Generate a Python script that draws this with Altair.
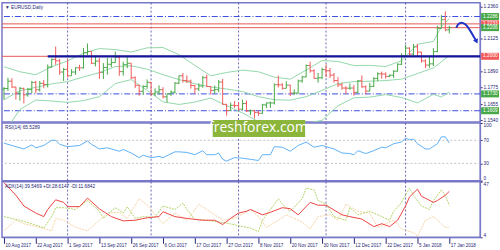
import altair as alt
import pandas as pd

# ---------------- data ----------------
bar_index = list(range(113))
opens = [1.1765,1.1769,1.1821,1.1779,1.1736,1.1770,1.1723,1.1761,1.1813,1.1760,
1.1806,1.1797,1.1923,1.1978,1.1968,1.1887,1.1906,1.1860,1.1887,1.1918,
1.1917,1.2026,1.2035,1.1950,1.1966,1.1885,1.1920,1.1943,1.1955,1.1994,
1.1890,1.1940,1.1950,1.1846,1.1792,1.1749,1.1784,1.1813,1.1731,1.1744,
1.1760,1.1709,1.1731,1.1742,1.1807,1.1860,1.1826,1.1822,1.1790,1.1766,
1.1787,1.1847,1.1783,1.1755,1.1761,1.1815,1.1655,1.1610,1.1648,1.1646,
1.1620,1.1661,1.1608,1.1609,1.1597,1.1590,1.1651,1.1665,1.1665,1.1796,
1.1795,1.1770,1.1793,1.1736,1.1736,1.1823,1.1852,1.1934,1.1896,1.1842,
1.1846,1.1904,1.1896,1.1865,1.1826,1.1795,1.1772,1.1771,1.1772,1.1741,
1.1824,1.1781,1.1750,1.1784,1.1841,1.1874,1.1873,1.1856,1.1864,1.1893,
1.1943,1.2003,1.2059,1.2016,1.2068,1.2030,1.1967,1.1937,1.1946,1.2034,
1.2201,1.2263,1.2190]
highs = [1.1779,1.1846,1.1842,1.1782,1.1780,1.1774,1.1773,1.1823,1.1823,1.1823,
1.1830,1.1941,1.1984,1.2070,1.1980,1.1916,1.1980,1.1908,1.1920,1.1939,
1.2060,1.2092,1.2036,1.1997,1.1988,1.1951,1.1989,1.1987,1.2034,1.2007,
1.1961,1.2001,1.1950,1.1855,1.1795,1.1792,1.1834,1.1816,1.1770,1.1792,
1.1778,1.1731,1.1755,1.1815,1.1861,1.1880,1.1863,1.1833,1.1795,1.1806,
1.1860,1.1868,1.1787,1.1790,1.1830,1.1837,1.1658,1.1668,1.1678,1.1669,
1.1689,1.1682,1.1618,1.1615,1.1609,1.1658,1.1668,1.1675,1.1805,1.1862,
1.1807,1.1821,1.1795,1.1763,1.1833,1.1860,1.1941,1.1961,1.1907,1.1880,
1.1918,1.1940,1.1916,1.1880,1.1851,1.1810,1.1786,1.1805,1.1793,1.1830,
1.1863,1.1791,1.1810,1.1850,1.1885,1.1890,1.1885,1.1870,1.1900,1.1950,
1.2022,1.2082,1.2065,1.2089,1.2088,1.2032,1.1978,1.2000,1.2059,1.2219,
1.2296,1.2323,1.2220]
lows = [1.1689,1.1751,1.1774,1.1689,1.1681,1.1662,1.1710,1.1735,1.1734,1.1745,
1.1771,1.1776,1.1918,1.1939,1.1867,1.1823,1.1848,1.1860,1.1867,1.1895,
1.1913,1.2009,1.1944,1.1928,1.1838,1.1837,1.1868,1.1922,1.1953,1.1860,
1.1861,1.1915,1.1837,1.1772,1.1717,1.1722,1.1766,1.1718,1.1715,1.1724,
1.1698,1.1669,1.1716,1.1732,1.1800,1.1811,1.1808,1.1768,1.1730,1.1750,
1.1774,1.1780,1.1725,1.1730,1.1742,1.1652,1.1574,1.1608,1.1629,1.1610,
1.1613,1.1600,1.1578,1.1554,1.1572,1.1587,1.1628,1.1630,1.1654,1.1776,
1.1761,1.1770,1.1715,1.1722,1.1732,1.1810,1.1849,1.1883,1.1838,1.1810,
1.1836,1.1850,1.1845,1.1811,1.1779,1.1760,1.1730,1.1760,1.1717,1.1735,
1.1774,1.1727,1.1749,1.1780,1.1821,1.1840,1.1840,1.1850,1.1845,1.1890,
1.1937,1.2002,1.2003,1.2007,1.2003,1.1955,1.1915,1.1918,1.1930,1.2030,
1.2200,1.2180,1.2165]
closes = [1.1769,1.1821,1.1779,1.1736,1.1770,1.1723,1.1761,1.1813,1.1760,1.1806,
1.1797,1.1923,1.1978,1.1968,1.1887,1.1906,1.1860,1.1887,1.1918,1.1917,
1.2026,1.2035,1.1950,1.1966,1.1885,1.1920,1.1943,1.1955,1.1994,1.1890,
1.1940,1.1950,1.1846,1.1792,1.1749,1.1784,1.1813,1.1731,1.1744,1.1760,
1.1709,1.1731,1.1742,1.1807,1.1860,1.1826,1.1822,1.1790,1.1766,1.1787,
1.1847,1.1783,1.1755,1.1761,1.1815,1.1655,1.1610,1.1648,1.1646,1.1620,
1.1661,1.1608,1.1609,1.1597,1.1590,1.1651,1.1665,1.1665,1.1796,1.1795,
1.1770,1.1793,1.1736,1.1736,1.1823,1.1852,1.1934,1.1896,1.1842,1.1846,
1.1904,1.1896,1.1865,1.1826,1.1795,1.1772,1.1771,1.1772,1.1741,1.1824,
1.1781,1.1750,1.1784,1.1841,1.1874,1.1873,1.1856,1.1864,1.1893,1.1943,
1.2003,1.2059,1.2016,1.2068,1.2030,1.1967,1.1937,1.1946,1.2034,1.2201,
1.2263,1.2190,1.2206]

date_label_index = [0,8,16,24,32,40,48,56,64,72,80,88,96,104,112]
date_labels = ["10 Aug 2017","22 Aug 2017","1 Sep 2017","13 Sep 2017","26 Sep 2017",
               "6 Oct 2017","17 Oct 2017","27 Oct 2017","8 Nov 2017","20 Nov 2017",
               "30 Nov 2017","12 Dec 2017","22 Dec 2017","5 Jan 2018","17 Jan 2018"]
month_start_index = [16,37,59,81,101]

bb_index = [0,4,8,12,16,20,24,28,32,36,40,44,48,52,56,60,64,68,72,76,80,84,88,92,96,100,104,108,110,112]
bb_upper = [1.1925,1.1889,1.1868,1.1925,1.1967,1.2022,1.2056,1.2048,1.2031,1.2061,1.2063,1.2012,1.1935,1.1860,1.1884,
            1.1901,1.1889,1.1850,1.1836,1.1901,1.1970,1.1963,1.1934,1.1935,1.1927,1.1968,1.2087,1.2107,1.2212,1.2271]
bb_middle = [1.1688,1.1753,1.1777,1.1802,1.1818,1.1852,1.1883,1.1926,1.1932,1.1908,1.1868,1.1833,1.1803,1.1780,1.1765,
             1.1747,1.1710,1.1688,1.1685,1.1710,1.1755,1.1804,1.1818,1.1821,1.1826,1.1836,1.1876,1.1917,1.1960,1.2007]
bb_lower = [1.1451,1.1617,1.1686,1.1679,1.1669,1.1682,1.1710,1.1804,1.1833,1.1755,1.1673,1.1654,1.1671,1.1700,1.1646,
            1.1593,1.1531,1.1526,1.1534,1.1519,1.1540,1.1645,1.1702,1.1707,1.1725,1.1704,1.1665,1.1727,1.1708,1.1743]

rsi_index = [0,2,5,7,8,10,12,13,14,16,19,21,22,24,26,29,30,32,34,35,37,39,40,43,44,46,48,50,51,53,54,55,56,58,60,
             62,64,65,67,68,70,72,74,76,78,80,83,85,87,88,89,91,93,95,96,98,100,101,102,103,104,106,107,109,110,111,112]
rsi_values = [65,61,55,62,57,61,70,70,63,59,61,69,63,55,57,51,54,48,40,44,40,42,40,50,50,49,45,52,45,45,48,37,34,40,39,
              37,35,45,45,59,58,51,61,67,58,61,55,48,47,45,52,47,52,58,57,64,67,74,71,72,64,55,55,64,76,76,65.5]

adx_index = [0,3,5,8,10,11,13,15,16,19,21,24,27,30,33,36,39,40,43,46,50,53,55,57,59,61,62,65,67,70,72,74,77,79,81,
             85,87,90,93,95,97,99,101,102,104,105,108,109,111,112]
adx_values = [46.2,36.5,28.2,22.8,20,25.5,33,31,27.7,27.7,34.3,26,20,16.7,17.2,19.1,20,23.8,20,18.6,17.2,17.2,13.9,18.6,
              22.8,24.1,25.5,21.4,23.3,26.9,26.1,21.4,31,28.8,28.8,21.4,20,18.1,12.3,14.5,12.3,17.2,28.2,35.2,41.2,35.7,
              31,32.4,36.5,39.5]
pdi_index = [0,4,7,10,12,13,15,18,21,24,25,28,30,31,33,35,38,40,43,45,46,48,51,56,60,62,64,65,67,69,70,72,75,76,78,
             79,81,83,86,87,89,92,95,97,98,100,102,103,105,107,108,110,111,112]
pdi_values = [20,17.2,14.5,11.2,20,26.9,26.9,25.5,32.4,24.1,18.6,26.9,22.8,27.7,18.6,20,19.5,28.2,25.5,30.5,25.5,17.8,
              17.2,15,12.3,11.2,8.4,17.2,25.5,33.8,29.6,24.1,33.8,42,40.6,32.4,29.6,20,17.2,26.9,21.4,24.1,20,17.2,24.1,
              31,42,36.5,28.2,25.5,32.4,40.6,36.5,28.6]
mdi_index = [0,3,5,9,12,13,15,18,21,24,26,29,31,34,36,40,43,46,49,51,55,58,62,64,66,69,71,75,77,79,82,84,86,89,92,
             94,98,100,103,104,106,108,110,111,112]
mdi_values = [9,17.2,14.5,11.7,9,18.6,17.2,11.7,9,17.2,22.8,23.3,18.6,33.8,28.8,14.5,22.8,17.2,29.6,25.5,17.2,18.6,
              25.5,20,11.7,17.2,21.4,15.8,10.4,20,21.4,17.2,29.6,24.1,22.8,11.7,17.2,10.4,7.6,4.8,17.2,20,14.5,11.7,11.7]

price_tick_values = [1.2360, 1.2125, 1.1890, 1.1775, 1.1655, 1.1540]
level_values = [1.2286, 1.2233, 1.2000, 1.1730, 1.1609, 1.2206]
level_kinds = ["blue", "red", "red", "blue", "blue", "bid"]
dashdot_levels = [1.2286, 1.1730, 1.1609]
red_levels = [1.2233, 1.2206, 1.2000]
trend_level = [1.2000]
trend_start_index = [11]

arrow_index = [113.75, 114.25, 115, 116, 117, 118, 118.75]
arrow_price = [1.2205, 1.2234, 1.2245, 1.2234, 1.2198, 1.2148, 1.2112]

# ---------------- styling ----------------
W = 481
H1, H2, H3 = 120, 58, 56
FONT = "Liberation Sans"
NAVY = "#262673"
PURPLE = "#7878c8"
GREEN = "#48a848"
RED = "#f05a5a"
BB = "#93d8aa"
FS = 4.8

xsc = alt.Scale(domain=[-0.5, 119.75], nice=False, zero=False)
psc = alt.Scale(domain=[1.1528, 1.2385], nice=False, zero=False)
rsc = alt.Scale(domain=[0, 100], nice=False, zero=False)
asc = alt.Scale(domain=[4, 47], nice=False, zero=False)

def yaxis(values, fmt):
    return alt.Axis(orient="right", values=values, format=fmt, title=None, grid=False,
                    labelFontSize=FS, labelFont=FONT, labelColor=NAVY, tickColor=NAVY,
                    tickSize=2, labelPadding=1, domainColor=PURPLE, labelFlush=True)

PAX = yaxis(price_tick_values, ".4f")
RAX = yaxis([0, 30, 70, 100], "d")
AAX = yaxis([4, 47], "d")

label_js = "[" + ",".join("'%s'" % s for s in date_labels) + "][datum.value / 8]"
XAX = alt.Axis(values=date_label_index, labelExpr=label_js, title=None, grid=False,
               labelAlign="left", labelOffset=1, labelFontSize=4.6, labelFont=FONT,
               labelColor=NAVY, tickColor=NAVY, tickSize=6, labelPadding=-1,
               domainColor=PURPLE, labelFlush=False, labelOverlap=False)

def months(ysc, yax, xax=None):
    d = pd.DataFrame({"i": month_start_index})
    return alt.Chart(d).mark_rule(color="#4646a8", strokeDash=[2, 2], strokeWidth=0.8).encode(
        x=alt.X("i:Q", scale=xsc, axis=xax))

# ---------------- price panel ----------------
ohlc = pd.DataFrame({"i": bar_index, "o": opens, "h": highs, "l": lows, "c": closes})
ohlc["dir"] = ["up" if c >= o else "down" for o, c in zip(opens, closes)]
col = alt.Color("dir:N", scale=alt.Scale(domain=["up", "down"], range=[GREEN, RED]), legend=None)
ob = alt.Chart(ohlc).transform_calculate(il="datum.i - 0.5", ir="datum.i + 0.5")
hl = ob.mark_rule(strokeWidth=1).encode(x=alt.X("i:Q", scale=xsc, axis=None),
                                        y=alt.Y("l:Q", scale=psc, axis=PAX), y2="h:Q", color=col)
ot = ob.mark_rule(strokeWidth=1).encode(x=alt.X("il:Q", scale=xsc, axis=None), x2="i:Q",
                                        y=alt.Y("o:Q", scale=psc, axis=PAX), color=col)
ct = ob.mark_rule(strokeWidth=1).encode(x=alt.X("i:Q", scale=xsc, axis=None), x2="ir:Q",
                                        y=alt.Y("c:Q", scale=psc, axis=PAX), color=col)

bb = pd.concat([
    pd.DataFrame({"i": bb_index, "v": bb_upper, "band": "upper"}),
    pd.DataFrame({"i": bb_index, "v": bb_middle, "band": "middle"}),
    pd.DataFrame({"i": bb_index, "v": bb_lower, "band": "lower"}),
])
bands = alt.Chart(bb).mark_line(color=BB, strokeWidth=1, clip=True).encode(
    x=alt.X("i:Q", scale=xsc, axis=None), y=alt.Y("v:Q", scale=psc, axis=PAX), detail="band:N")

dd = alt.Chart(pd.DataFrame({"v": dashdot_levels})).mark_rule(
    color="#3a4ee6", strokeDash=[6, 2, 1, 2], strokeWidth=1).encode(y=alt.Y("v:Q", scale=psc, axis=PAX))
rl = alt.Chart(pd.DataFrame({"v": red_levels})).mark_rule(color="#e85a5a", strokeWidth=1).encode(
    y=alt.Y("v:Q", scale=psc, axis=PAX))
tr = alt.Chart(pd.DataFrame({"v": trend_level, "s": trend_start_index, "e": [119.75]})).mark_rule(
    color="#14149a", strokeWidth=2.2).encode(x=alt.X("s:Q", scale=xsc, axis=None), x2="e:Q",
                                             y=alt.Y("v:Q", scale=psc, axis=PAX))

arr = pd.DataFrame({"i": arrow_index, "v": arrow_price, "k": list(range(len(arrow_index)))})
arrow_line = alt.Chart(arr).mark_line(color="#2233c8", strokeWidth=2, interpolate="basis").encode(
    x=alt.X("i:Q", scale=xsc, axis=None), y=alt.Y("v:Q", scale=psc, axis=PAX), order="k:Q")
arrow_head = alt.Chart(arr.tail(1)).mark_point(shape="triangle", filled=True, color="#2233c8",
                                               size=30, angle=155, opacity=1).encode(
    x=alt.X("i:Q", scale=xsc, axis=None), y=alt.Y("v:Q", scale=psc, axis=PAX))

lv = pd.DataFrame({"v": level_values, "kind": level_kinds,
                   "t": ["%.4f" % v for v in level_values]})
lv["order"] = range(len(lv))
kind_col = alt.Color("kind:N", scale=alt.Scale(domain=["blue", "red", "bid"],
                                                range=["#2f47ea", "#f03a3a", "#10107e"]), legend=None)
lbox = alt.Chart(lv).transform_calculate(lo="datum.v - 0.0025", hi="datum.v + 0.0025").mark_rect().encode(
    x=alt.value(W + 1), x2=alt.value(W + 19), y=alt.Y("lo:Q", scale=psc, axis=PAX), y2="hi:Q",
    color=kind_col, order="order:Q")
ltxt = alt.Chart(lv).mark_text(align="left", baseline="middle", fontSize=FS, font=FONT, color="white").encode(
    x=alt.value(W + 3), y=alt.Y("v:Q", scale=psc, axis=PAX), text="t:N")

title1 = alt.Chart(pd.DataFrame({"t": ["\u25bc EURUSD,Daily"]})).mark_text(
    align="left", baseline="middle", fontSize=FS, font=FONT, color=NAVY).encode(
    x=alt.value(3), y=alt.value(5), text="t:N")

price = alt.layer(months(psc, PAX), dd, rl, bands, hl, ot, ct, tr, arrow_line, arrow_head,
                  lbox, ltxt, title1).properties(width=W, height=H1)

# ---------------- RSI panel ----------------
rsi_df = pd.DataFrame({"i": rsi_index, "v": rsi_values})
rsi_grid = alt.Chart(pd.DataFrame({"v": [70, 30]})).mark_rule(
    color="#c4c4c4", strokeDash=[2, 2], strokeWidth=1).encode(y=alt.Y("v:Q", scale=rsc, axis=RAX))
rsi_line = alt.Chart(rsi_df).mark_line(color="#5fb0f5", strokeWidth=1).encode(
    x=alt.X("i:Q", scale=xsc, axis=None), y=alt.Y("v:Q", scale=rsc, axis=RAX))
title2 = alt.Chart(pd.DataFrame({"t": ["RSI(14) 65.5289"]})).mark_text(
    align="left", baseline="middle", fontSize=FS, font=FONT, color=NAVY).encode(
    x=alt.value(3), y=alt.value(5), text="t:N")
wm = pd.DataFrame({"t": ["freshforex.com"]})
wm_rect = alt.Chart(wm).mark_rect(color="#8cb53c").encode(
    x=alt.value(212), x2=alt.value(305), y=alt.value(-3), y2=alt.value(14))
wm_text = alt.Chart(wm).mark_text(font="Open Sans", fontSize=14, color="white", align="center",
                                  baseline="middle").encode(x=alt.value(258), y=alt.value(5), text="t:N")
rsi = alt.layer(months(rsc, RAX), rsi_grid, rsi_line, title2, wm_rect, wm_text).properties(width=W, height=H2)

# ---------------- ADX panel ----------------
adx_df = pd.DataFrame({"i": adx_index, "v": adx_values})
pdi_df = pd.DataFrame({"i": pdi_index, "v": pdi_values})
mdi_df = pd.DataFrame({"i": mdi_index, "v": mdi_values})
mdi_line = alt.Chart(mdi_df).mark_line(color="#f5d3a3", strokeWidth=1, strokeDash=[2, 1]).encode(
    x=alt.X("i:Q", scale=xsc, axis=XAX), y=alt.Y("v:Q", scale=asc, axis=AAX))
pdi_line = alt.Chart(pdi_df).mark_line(color="#b2d46a", strokeWidth=1, strokeDash=[2, 1]).encode(
    x=alt.X("i:Q", scale=xsc, axis=XAX), y=alt.Y("v:Q", scale=asc, axis=AAX))
adx_line = alt.Chart(adx_df).mark_line(color="#ee4444", strokeWidth=1).encode(
    x=alt.X("i:Q", scale=xsc, axis=XAX), y=alt.Y("v:Q", scale=asc, axis=AAX))
title3 = alt.Chart(pd.DataFrame({"t": ["ADX(14) 39.5469 +DI:28.6147 -DI:11.6842"]})).mark_text(
    align="left", baseline="middle", fontSize=FS, font=FONT, color=NAVY).encode(
    x=alt.value(3), y=alt.value(5), text="t:N")
adx = alt.layer(months(asc, AAX, XAX), mdi_line, pdi_line, adx_line, title3).properties(width=W, height=H3)

chart = alt.vconcat(price, rsi, adx, spacing=1, bounds="flush").properties(
    padding=0, background="white").configure_view(stroke=PURPLE, strokeWidth=1.5).configure_concat(spacing=1)

chart.save("out.html", embed_options={"renderer": "svg", "actions": False})
